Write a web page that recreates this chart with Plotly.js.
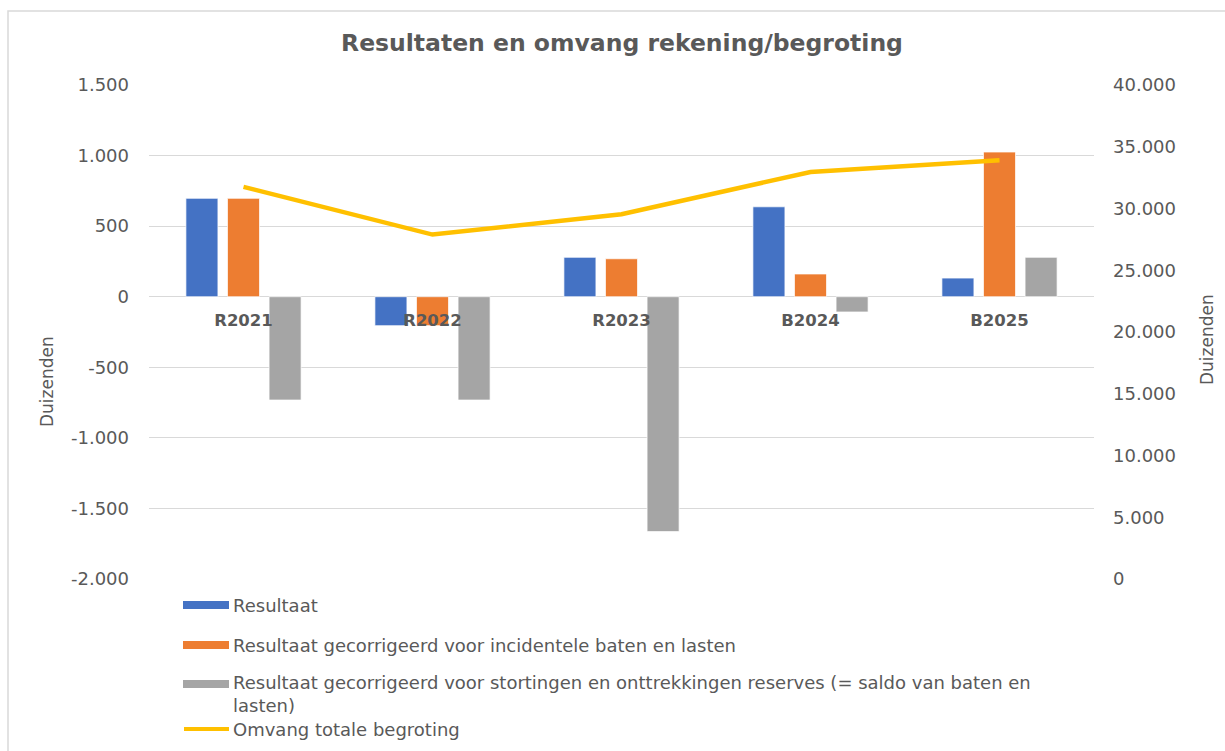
<!DOCTYPE html>
<html>
<head>
<meta charset="utf-8">
<script src="https://cdn.plot.ly/plotly-3.0.1.min.js"></script>
<style>
html,body{margin:0;padding:0;background:#fff;}
#chart{width:1225px;height:751px;}
</style>
</head>
<body>
<div id="chart"></div>
<script>
// ---- data ----
const categories = ['R2021', 'R2022', 'R2023', 'B2024', 'B2025'];
const resultaat = [697, -205, 279, 637, 132];
const resultaatIncidenteel = [697, -205, 269, 161, 1025];
const resultaatReserves = [-732, -732, -1664, -108, 279];
const omvangBegroting = [31750, 27890, 29540, 32960, 33910];

const seriesNames = [
  'Resultaat',
  'Resultaat gecorrigeerd voor incidentele baten en lasten',
  'Resultaat gecorrigeerd voor stortingen en onttrekkingen reserves (= saldo van baten en<br>lasten)',
  'Omvang totale begroting'
];
const leftTickVals = [-2000, -1500, -1000, -500, 0, 500, 1000, 1500];
const leftTickText = ['-2.000', '-1.500', '-1.000', '-500', '0', '500', '1.000', '1.500'];
const rightTickVals = [0, 5000, 10000, 15000, 20000, 25000, 30000, 35000, 40000];
const rightTickText = ['0', '5.000', '10.000', '15.000', '20.000', '25.000', '30.000', '35.000', '40.000'];
const titleText = 'Resultaten en omvang rekening/begroting';
const axisTitle = 'Duizenden';

// ---- style ----
const FONT = 'Verdana, "DejaVu Sans", sans-serif';
const GREY = '#595959';
const colors = ['#4472C4', '#ED7D31', '#A5A5A5', '#FFC000'];
const L = 149, R = 1094, T = 85, B = 579;
const px = p => (p - L) / (R - L);
const py = p => (B - p) / (B - T);
const leftRange = [-2000, 1500];
const zeroPos = (0 - leftRange[0]) / (leftRange[1] - leftRange[0]);

const barSeries = [resultaat, resultaatIncidenteel, resultaatReserves];
const traces = barSeries.map((vals, i) => ({
  type: 'bar',
  x: categories,
  y: vals,
  name: seriesNames[i],
  marker: {color: colors[i], line: {color: 'rgba(255,255,255,0.7)', width: 1}},
  yaxis: 'y',
  showlegend: false,
  hoverinfo: 'x+y'
}));
traces.push({
  type: 'scatter',
  mode: 'lines',
  x: categories,
  y: omvangBegroting,
  name: seriesNames[3],
  yaxis: 'y2',
  line: {color: colors[3], width: 4.5},
  showlegend: false
});

// manual legend
const legendRows = [605, 645, 694, 729];
const symbolY = [605, 645, 684, 729];
const shapes = [];
const annotations = [];
for (let i = 0; i < 4; i++) {
  if (i < 3) {
    shapes.push({type: 'rect', xref: 'paper', yref: 'paper',
      x0: px(183), x1: px(229), y0: py(symbolY[i] + 4), y1: py(symbolY[i] - 4),
      fillcolor: colors[i], line: {width: 0}});
  } else {
    shapes.push({type: 'line', xref: 'paper', yref: 'paper',
      x0: px(184), x1: px(229), y0: py(symbolY[i]), y1: py(symbolY[i]),
      line: {color: colors[i], width: 4}});
  }
  annotations.push({xref: 'paper', yref: 'paper', x: px(231), y: py(legendRows[i]),
    xanchor: 'left', yanchor: 'middle', align: 'left', showarrow: false,
    text: seriesNames[i], font: {family: FONT, size: 18, color: GREY}});
}
// axis titles
annotations.push({xref: 'paper', yref: 'paper', x: px(47), y: py(382), textangle: -90,
  showarrow: false, text: axisTitle, xanchor: 'center', yanchor: 'middle',
  font: {family: FONT, size: 17, color: GREY}});
annotations.push({xref: 'paper', yref: 'paper', x: px(1207), y: py(340), textangle: -90,
  showarrow: false, text: axisTitle, xanchor: 'center', yanchor: 'middle',
  font: {family: FONT, size: 17, color: GREY}});
// chart border
shapes.push({type: 'rect', xref: 'paper', yref: 'paper', layer: 'below',
  x0: px(8), x1: px(1240), y0: py(770), y1: py(11),
  line: {color: '#D9D9D9', width: 1.5}, fillcolor: 'rgba(0,0,0,0)'});

const layout = {
  width: 1225, height: 751,
  margin: {l: L, r: 1225 - R, t: T, b: 751 - B, pad: 0},
  paper_bgcolor: '#fff', plot_bgcolor: '#fff',
  title: {text: '<b>' + titleText + '</b>', x: px(622), xref: 'paper', xanchor: 'center',
    y: 1 - 43 / 751, yref: 'container', yanchor: 'middle',
    font: {family: FONT, size: 23.5, color: GREY}},
  barmode: 'group', bargap: 0.34, bargroupgap: 0.23,
  xaxis: {type: 'category', anchor: 'free', position: zeroPos, showline: false,
    showgrid: false, zeroline: false, ticks: '', ticklabelstandoff: 12,
    tickfont: {family: FONT, size: 16.5, color: GREY, weight: 'bold'}, fixedrange: true},
  yaxis: {range: leftRange, tickvals: leftTickVals, ticktext: leftTickText,
    showgrid: true, gridcolor: '#D9D9D9', gridwidth: 1.3, zeroline: false, showline: false,
    ticks: '', ticklabelstandoff: 19, tickfont: {family: FONT, size: 18, color: GREY}},
  yaxis2: {range: [0, 40000], tickvals: rightTickVals, ticktext: rightTickText,
    overlaying: 'y', side: 'right', showgrid: false, zeroline: false, showline: false,
    ticks: '', ticklabelstandoff: 18, tickfont: {family: FONT, size: 18, color: GREY}},
  showlegend: false,
  shapes: shapes,
  annotations: annotations
};

Plotly.newPlot('chart', traces, layout, {displayModeBar: false, responsive: false});
</script>
</body>
</html>
